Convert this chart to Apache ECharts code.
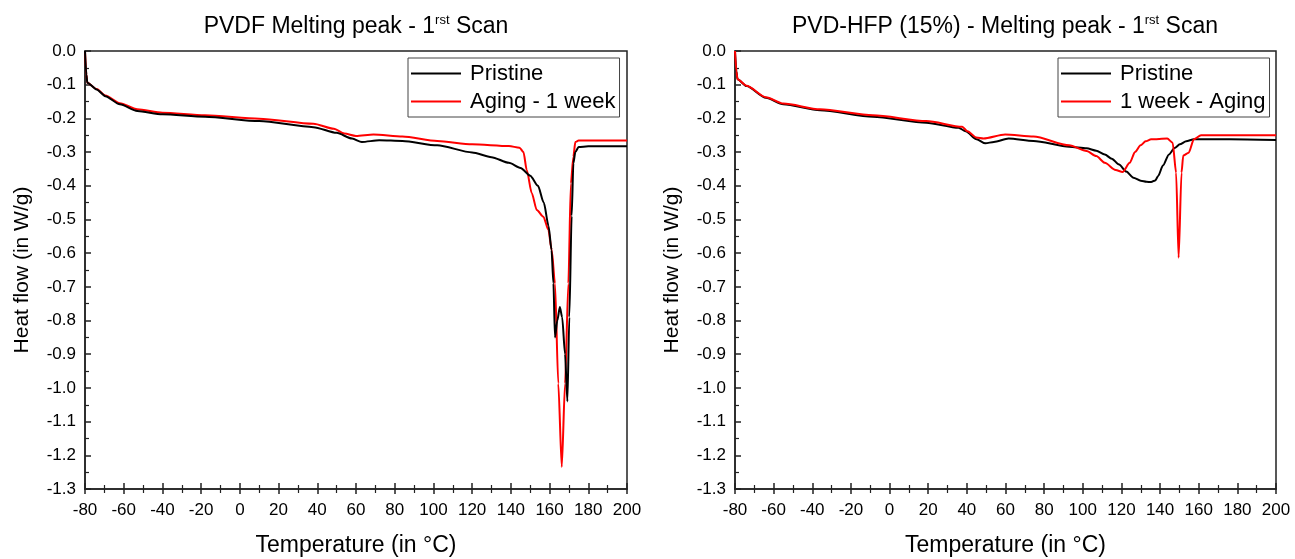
<!DOCTYPE html>
<html>
<head>
<meta charset="utf-8">
<script src="https://cdn.jsdelivr.net/npm/echarts@6/dist/echarts.min.js"></script>
<style>
html,body{margin:0;padding:0;background:#fff;}
#c{width:1295px;height:559px;}
</style>
</head>
<body>
<div id="c"></div>
<script>
// ---- Data (temperature in °C, heat flow in W/g) ----
const leftPristineT = [-80,-79.3,-78.8,-74,-69.5,-62,-53,-40,-18,10,38,50,58,63,72,84,102,120,130,139,145,150,154,157,159.5,161,162,162.8,164,165.3,166.5,168,169.2,170.2,171.4,172.3,173.3,175,180,200];
const leftPristineH = [0,-0.07,-0.094,-0.114,-0.134,-0.158,-0.178,-0.188,-0.195,-0.208,-0.226,-0.243,-0.260,-0.270,-0.265,-0.267,-0.280,-0.301,-0.315,-0.332,-0.347,-0.370,-0.400,-0.450,-0.52,-0.59,-0.69,-0.85,-0.80,-0.76,-0.79,-0.90,-1.04,-0.79,-0.49,-0.333,-0.30,-0.285,-0.283,-0.283];

const leftAgingT = [-80,-79.3,-78.8,-74,-69.5,-62,-53,-40,-18,10,38,48.6,54,60,69,84,102,120,139,144.5,146.5,148.2,150.8,153.4,156.8,159.4,161.1,162.8,164.5,166.3,168,169.7,171,172.3,173.3,175,200];
const leftAgingH = [0,-0.07,-0.094,-0.113,-0.132,-0.155,-0.173,-0.183,-0.191,-0.201,-0.216,-0.231,-0.245,-0.252,-0.248,-0.254,-0.267,-0.277,-0.282,-0.287,-0.300,-0.353,-0.422,-0.472,-0.492,-0.531,-0.591,-0.690,-0.987,-1.235,-0.987,-0.690,-0.393,-0.314,-0.270,-0.266,-0.266];

const rightPristineT = [-80,-79.3,-78.7,-74,-64,-55,-36,-8.6,19,35.7,39.4,45,49.6,54,61.6,74.5,93,102,107,111.4,115,118.8,122.5,126.2,130,133,135.4,137.5,139,141.5,144.6,147.5,150.2,153.5,157.5,176,200];
const rightPristineH = [0,-0.06,-0.084,-0.104,-0.139,-0.158,-0.176,-0.195,-0.213,-0.228,-0.238,-0.262,-0.274,-0.270,-0.260,-0.267,-0.284,-0.289,-0.296,-0.307,-0.320,-0.337,-0.358,-0.376,-0.385,-0.388,-0.389,-0.384,-0.371,-0.340,-0.307,-0.288,-0.277,-0.268,-0.262,-0.262,-0.264];

const rightAgingT = [-80,-79.3,-78.7,-74,-64,-55,-36,-8.6,19,37.6,40.3,45,48.6,59.8,74.5,93,102,107,111.4,117,120.6,124.3,127,129.9,132.5,135.4,143.7,146.5,148.3,149.6,151.1,152,154.8,157.5,161.2,200];
const rightAgingH = [0,-0.06,-0.084,-0.103,-0.137,-0.156,-0.173,-0.191,-0.208,-0.225,-0.238,-0.257,-0.260,-0.248,-0.254,-0.280,-0.297,-0.312,-0.332,-0.353,-0.359,-0.332,-0.300,-0.280,-0.268,-0.262,-0.260,-0.272,-0.361,-0.614,-0.361,-0.310,-0.302,-0.262,-0.250,-0.250];

const xTicks = {min:-80, max:200, interval:20};
const yTicks = {min:-1.3, max:0, interval:0.1};

const titles = ['PVDF Melting peak - 1', 'PVD-HFP (15%) - Melting peak - 1'];
const legendNames = [['Pristine','Aging - 1 week'], ['Pristine','1 week - Aging']];
const xName = 'Temperature (in °C)';
const yName = 'Heat flow (in W/g)';

// ---- Build chart ----
const FONT = '"Liberation Sans", Arial, sans-serif';
const zip = (a,b) => a.map((v,i)=>[v,b[i]]);
const grids = [
  {left:85, top:51, width:542, height:438},
  {left:735, top:51, width:541, height:438}
];
const titleCenters = [351, 1000];
const frame = '#222';

const option = {
  animation:false,
  backgroundColor:'#fff',
  textStyle:{fontFamily:FONT},
  title: titles.map((t,i)=>({
    text:'{a|'+t+'}{s|rst}{a| Scan}',
    left: titleCenters[i],
    textAlign:'center',
    top:9,
    textStyle:{
      fontWeight:'normal',
      rich:{
        a:{fontSize:23, fontFamily:FONT, color:'#000', fontWeight:'normal'},
        s:{fontSize:13, fontFamily:FONT, color:'#000', fontWeight:'normal', padding:[0,0,12,0]}
      }
    }
  })),
  legend: legendNames.map((names,i)=>({
    data:names,
    orient:'vertical',
    left: grids[i].left + 323,
    top:58,
    backgroundColor:'#fff',
    borderColor:'#444',
    borderWidth:1,
    padding:[4,4,4,3],
    icon:'rect',
    itemWidth:50,
    itemHeight:2,
    itemGap:5,
    selectedMode:false,
    textStyle:{fontSize:22, lineHeight:23, fontFamily:FONT, color:'#000', padding:[0,0,0,4]}
  })),
  grid: grids.map(g=>Object.assign({show:true, borderColor:frame, borderWidth:1.5, backgroundColor:'transparent', outerBoundsMode:'none', containLabel:false}, g)),
  xAxis: [],
  yAxis: [],
  series: []
};

[0,1].forEach(i=>{
  // main x axis: labels + inward ticks
  option.xAxis.push({
    type:'value', gridIndex:i, position:'bottom',
    min:xTicks.min, max:xTicks.max, interval:xTicks.interval,
    name:xName, nameLocation:'middle', nameGap:45,
    nameTextStyle:{fontSize:23, fontFamily:FONT, color:'#000'},
    axisLine:{show:true, onZero:false, lineStyle:{color:frame, width:1.5}},
    axisTick:{show:true, inside:true, length:6, lineStyle:{color:frame, width:1.5}},
    minorTick:{show:true, splitNumber:2, length:4, lineStyle:{color:frame, width:1.2}},
    axisLabel:{fontSize:17, fontFamily:FONT, color:'#000', margin:13},
    splitLine:{show:false}
  });
  // second x axis: outward ticks (cross ticks)
  option.xAxis.push({
    type:'value', gridIndex:i, position:'bottom',
    min:xTicks.min, max:xTicks.max, interval:xTicks.interval,
    axisLine:{show:false, onZero:false},
    axisTick:{show:true, inside:false, length:5, lineStyle:{color:frame, width:1.5}},
    minorTick:{show:true, splitNumber:2, length:4, lineStyle:{color:frame, width:1.2}},
    axisLabel:{show:false},
    splitLine:{show:false}
  });
  option.yAxis.push({
    type:'value', gridIndex:i,
    min:yTicks.min, max:yTicks.max, interval:yTicks.interval,
    name:yName, nameLocation:'middle', nameGap:52,
    nameTextStyle:{fontSize:21, fontFamily:FONT, color:'#000'},
    axisLine:{show:true, onZero:false, lineStyle:{color:frame, width:1.5}},
    axisTick:{show:true, inside:true, length:6, lineStyle:{color:frame, width:1.5}},
    minorTick:{show:true, splitNumber:2, length:4, lineStyle:{color:frame, width:1.2}},
    axisLabel:{fontSize:17, fontFamily:FONT, color:'#000', margin:9,
      formatter:v=>(Math.abs(v)<1e-9?0:v).toFixed(1)},
    splitLine:{show:false}
  });
});

const seriesDefs = [
  {name:legendNames[0][0], g:0, T:leftPristineT, H:leftPristineH, color:'#000000', z:3},
  {name:legendNames[0][1], g:0, T:leftAgingT, H:leftAgingH, color:'#ff0000', z:2},
  {name:legendNames[1][0], g:1, T:rightPristineT, H:rightPristineH, color:'#000000', z:2},
  {name:legendNames[1][1], g:1, T:rightAgingT, H:rightAgingH, color:'#ff0000', z:3}
];
seriesDefs.forEach(s=>{
  option.series.push({
    type:'line', name:s.name,
    xAxisIndex:s.g*2, yAxisIndex:s.g,
    data:zip(s.T,s.H),
    symbol:'none', smooth:0.25, smoothMonotone:'x',
    color:s.color, z:s.z,
    lineStyle:{color:s.color, width:2},
    clip:true
  });
});

const chart = echarts.init(document.getElementById('c'), null, {renderer:'canvas'});
chart.setOption(option);
</script>
</body>
</html>
